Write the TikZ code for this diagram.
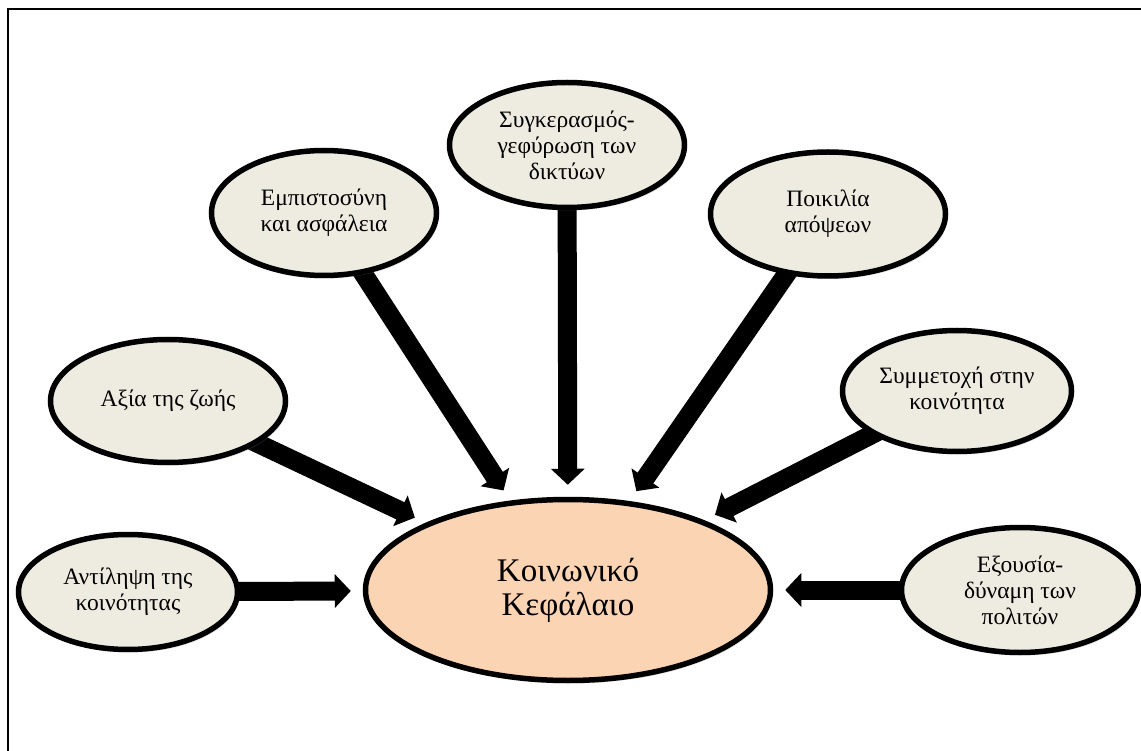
\documentclass[tikz,border=0pt]{standalone}
\usepackage{fontspec}
\setmainfont{Liberation Serif}
\usepackage{xcolor}
\usetikzlibrary{arrows.meta, shapes.geometric, shadows, backgrounds}

\definecolor{beige}{HTML}{EEECE1}
\definecolor{peach}{HTML}{FBD4B4}

\tikzset{
  factor/.style={ellipse, draw=black, line width=5.5pt, fill=beige, align=center,
    inner sep=0pt, font=\fontsize{23.5}{26}\selectfont,
    drop shadow={opacity=0.25, shadow xshift=2pt, shadow yshift=-3pt}},
  fatarrow/.style={line width=19pt, -{Triangle[length=16pt,width=33pt]},
    shorten >=12pt, shorten <=-8pt},
}

\begin{document}
\begin{tikzpicture}[x=1pt,y=-1pt]
\useasboundingbox (0,0) rectangle (1141,751);
\draw[line width=2.5pt] (8,751) -- (8,9) -- (1141,9);

\node[factor, fill=peach, minimum width=405pt, minimum height=181pt,
  font=\fontsize{33}{34}\selectfont] (core) at (568,590) {Κοινωνικό\\Κεφάλαιο};

\node[factor, minimum width=219pt, minimum height=115pt] (percep) at (128,592) {Αντίληψη της\\κοινότητας};
\node[factor, minimum width=235pt, minimum height=123pt] (value) at (168,401) {Αξία της ζωής};
\node[factor, minimum width=225pt, minimum height=125pt] (trust) at (324,213) {Εμπιστοσύνη\\και ασφάλεια};
\node[factor, minimum width=235pt, minimum height=125pt] (bridge) at (567,145) {Συγκερασμός-\\γεφύρωση των\\δικτύων};
\node[factor, minimum width=235pt, minimum height=124pt] (divers) at (828,214) {Ποικιλία\\απόψεων};
\node[factor, minimum width=229pt, minimum height=121pt] (partic) at (957,391) {Συμμετοχή στην\\κοινότητα};
\node[factor, minimum width=237pt, minimum height=125pt] (power) at (1020,590) {Εξουσία-\\δύναμη των\\πολιτών};

\begin{scope}[on background layer]
\foreach \n in {percep,value,trust,bridge,divers,partic,power}
  \draw[fatarrow] (\n) -- (core);
\end{scope}
\end{tikzpicture}
\end{document}
